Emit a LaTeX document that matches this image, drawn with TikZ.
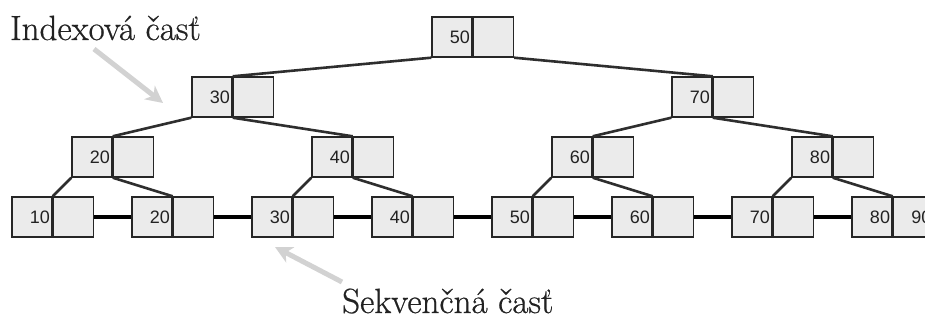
\documentclass[tikz,border=0pt]{standalone}
\usepackage{fontspec}
\newfontfamily\numfont{Liberation Sans}
\newfontfamily\capfont[FakeBold=0.6]{Latin Modern Roman}
\usetikzlibrary{arrows.meta}
\definecolor{cellfill}{HTML}{EBEBEB}
\definecolor{cellline}{HTML}{262626}
\definecolor{edgecol}{HTML}{2E2E2E}
\definecolor{hintcol}{HTML}{D2D2D2}
\definecolor{txtcol}{HTML}{222222}
\tikzset{
  cell/.style={draw=cellline, line width=1.4pt, fill=cellfill, rectangle,
    minimum width=40pt, minimum height=40pt, inner xsep=2pt, inner ysep=0pt,
    text width=36pt, align=right, font=\numfont\fontsize{18}{18}\selectfont, text=txtcol},
  treeedge/.style={draw=edgecol, line width=2.6pt},
  leaflink/.style={draw=black, line width=3.2pt},
  hint/.style={draw=hintcol, line width=5pt, -{Stealth[length=17pt,width=17pt,inset=5pt]}},
  caption/.style={font=\capfont\fontsize{35}{40}\selectfont, text=txtcol, inner sep=0pt, anchor=base west}
}
\newcommand\pairnode[4]{%
  \node[cell] (#1-l) at (#2,#3) {#4};
  \node[cell, anchor=west] (#1-r) at (#1-l.east) {};
}
\newcommand\pairnodeB[5]{%
  \node[cell] (#1-l) at (#2,#3) {#4};
  \node[cell, anchor=west] (#1-r) at (#1-l.east) {#5};
}
\begin{document}
\begin{tikzpicture}[x=1pt,y=-1pt]
\useasboundingbox (0,0) rectangle (925,320);
\clip (0,0) rectangle (925,320);
\fill[white] (0,0) rectangle (925,320);
% nodes
\pairnode{root}{452}{37}{50}
\pairnode{a}{212}{97}{30}
\pairnode{b}{692}{97}{70}
\pairnode{c}{92}{157}{20}
\pairnode{d}{332}{157}{40}
\pairnode{e}{572}{157}{60}
\pairnode{f}{812}{157}{80}
\pairnode{l1}{32}{217}{10}
\pairnode{l2}{152}{217}{20}
\pairnode{l3}{272}{217}{30}
\pairnode{l4}{392}{217}{40}
\pairnode{l5}{512}{217}{50}
\pairnode{l6}{632}{217}{60}
\pairnode{l7}{752}{217}{70}
\pairnodeB{l8}{872}{217}{80}{90}
% tree edges
\draw[treeedge] (root-l.south west) -- (a-l.north east);
\draw[treeedge] (root-r.south east) -- (b-l.north east);
\draw[treeedge] (a-l.south west) -- (c-l.north east);
\draw[treeedge] (a-l.south east) -- (d-l.north east);
\draw[treeedge] (b-l.south west) -- (e-l.north east);
\draw[treeedge] (b-l.south east) -- (f-l.north east);
\draw[treeedge] (c-l.south west) -- (l1-l.north east);
\draw[treeedge] (c-l.south east) -- (l2-l.north east);
\draw[treeedge] (d-l.south west) -- (l3-l.north east);
\draw[treeedge] (d-l.south east) -- (l4-l.north east);
\draw[treeedge] (e-l.south west) -- (l5-l.north east);
\draw[treeedge] (e-l.south east) -- (l6-l.north east);
\draw[treeedge] (f-l.south west) -- (l7-l.north east);
\draw[treeedge] (f-l.south east) -- (l8-l.north east);
% leaf links
\draw[leaflink] (l1-r.east) -- (l2-l.west);
\draw[leaflink] (l2-r.east) -- (l3-l.west);
\draw[leaflink] (l3-r.east) -- (l4-l.west);
\draw[leaflink] (l4-r.east) -- (l5-l.west);
\draw[leaflink] (l5-r.east) -- (l6-l.west);
\draw[leaflink] (l6-r.east) -- (l7-l.west);
\draw[leaflink] (l7-r.east) -- (l8-l.west);
% captions
\node[caption] (idx) at (10,40) {Indexová časť};
\node[caption] (seq) at (342,313) {Sekvenčná časť};
\coordinate (idxtail) at (94,49);
\coordinate (idxhead) at (163,103);
\coordinate (seqtail) at (342,282);
\coordinate (seqhead) at (275,247);
\draw[hint] (idxtail) -- (idxhead);
\draw[hint] (seqtail) -- (seqhead);
\end{tikzpicture}
\end{document}
